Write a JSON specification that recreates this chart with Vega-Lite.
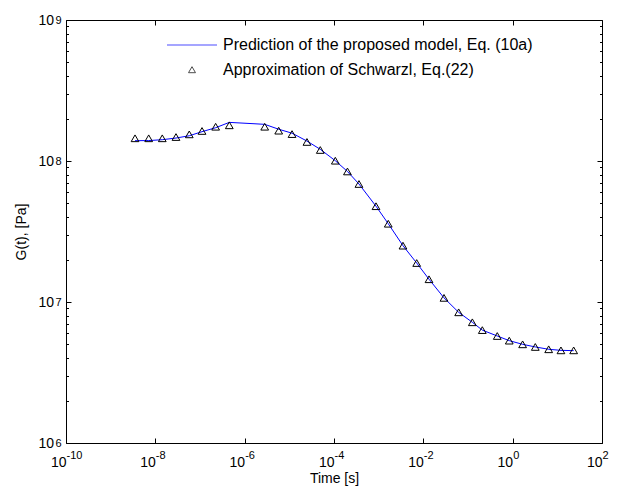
{
  "$schema": "https://vega.github.io/schema/vega-lite/v6.json",
  "width": 536,
  "height": 423,
  "autosize": "none",
  "padding": {"left": 66, "top": 20, "right": 17, "bottom": 50},
  "background": "white",
  "data": {
    "values": [
      {"series": "Prediction of the proposed model, Eq. (10a)", "t": 3.51e-9, "G": 1.393e8},
      {"series": "Prediction of the proposed model, Eq. (10a)", "t": 7.10e-9, "G": 1.396e8},
      {"series": "Prediction of the proposed model, Eq. (10a)", "t": 1.43e-8, "G": 1.416e8},
      {"series": "Prediction of the proposed model, Eq. (10a)", "t": 2.90e-8, "G": 1.455e8},
      {"series": "Prediction of the proposed model, Eq. (10a)", "t": 5.75e-8, "G": 1.510e8},
      {"series": "Prediction of the proposed model, Eq. (10a)", "t": 1.11e-7, "G": 1.614e8},
      {"series": "Prediction of the proposed model, Eq. (10a)", "t": 2.24e-7, "G": 1.722e8},
      {"series": "Prediction of the proposed model, Eq. (10a)", "t": 4.53e-7, "G": 1.879e8},
      {"series": "Prediction of the proposed model, Eq. (10a)", "t": 2.81e-6, "G": 1.820e8},
      {"series": "Prediction of the proposed model, Eq. (10a)", "t": 5.78e-6, "G": 1.68e8},
      {"series": "Prediction of the proposed model, Eq. (10a)", "t": 1.15e-5, "G": 1.575e8},
      {"series": "Prediction of the proposed model, Eq. (10a)", "t": 2.48e-5, "G": 1.385e8},
      {"series": "Prediction of the proposed model, Eq. (10a)", "t": 4.93e-5, "G": 1.21e8},
      {"series": "Prediction of the proposed model, Eq. (10a)", "t": 1.07e-4, "G": 1.005e8},
      {"series": "Prediction of the proposed model, Eq. (10a)", "t": 2.00e-4, "G": 8.43e7},
      {"series": "Prediction of the proposed model, Eq. (10a)", "t": 3.62e-4, "G": 6.87e7},
      {"series": "Prediction of the proposed model, Eq. (10a)", "t": 8.71e-4, "G": 4.78e7},
      {"series": "Prediction of the proposed model, Eq. (10a)", "t": 1.64e-3, "G": 3.59e7},
      {"series": "Prediction of the proposed model, Eq. (10a)", "t": 3.50e-3, "G": 2.51e7},
      {"series": "Prediction of the proposed model, Eq. (10a)", "t": 7.10e-3, "G": 1.89e7},
      {"series": "Prediction of the proposed model, Eq. (10a)", "t": 1.34e-2, "G": 1.45e7},
      {"series": "Prediction of the proposed model, Eq. (10a)", "t": 2.90e-2, "G": 1.07e7},
      {"series": "Prediction of the proposed model, Eq. (10a)", "t": 6.18e-2, "G": 8.45e6},
      {"series": "Prediction of the proposed model, Eq. (10a)", "t": 0.125, "G": 7.18e6},
      {"series": "Prediction of the proposed model, Eq. (10a)", "t": 0.209, "G": 6.32e6},
      {"series": "Prediction of the proposed model, Eq. (10a)", "t": 0.452, "G": 5.74e6},
      {"series": "Prediction of the proposed model, Eq. (10a)", "t": 0.839, "G": 5.32e6},
      {"series": "Prediction of the proposed model, Eq. (10a)", "t": 1.67, "G": 5.01e6},
      {"series": "Prediction of the proposed model, Eq. (10a)", "t": 3.21, "G": 4.80e6},
      {"series": "Prediction of the proposed model, Eq. (10a)", "t": 6.40, "G": 4.62e6},
      {"series": "Prediction of the proposed model, Eq. (10a)", "t": 12.05, "G": 4.54e6},
      {"series": "Prediction of the proposed model, Eq. (10a)", "t": 23.2, "G": 4.52e6},
      {"series": "Approximation of Schwarzl, Eq.(22)", "t": 3.51e-9, "G": 1.449e8},
      {"series": "Approximation of Schwarzl, Eq.(22)", "t": 7.10e-9, "G": 1.449e8},
      {"series": "Approximation of Schwarzl, Eq.(22)", "t": 1.43e-8, "G": 1.449e8},
      {"series": "Approximation of Schwarzl, Eq.(22)", "t": 2.90e-8, "G": 1.479e8},
      {"series": "Approximation of Schwarzl, Eq.(22)", "t": 5.75e-8, "G": 1.545e8},
      {"series": "Approximation of Schwarzl, Eq.(22)", "t": 1.11e-7, "G": 1.633e8},
      {"series": "Approximation of Schwarzl, Eq.(22)", "t": 2.24e-7, "G": 1.750e8},
      {"series": "Approximation of Schwarzl, Eq.(22)", "t": 4.53e-7, "G": 1.791e8},
      {"series": "Approximation of Schwarzl, Eq.(22)", "t": 2.81e-6, "G": 1.750e8},
      {"series": "Approximation of Schwarzl, Eq.(22)", "t": 5.78e-6, "G": 1.641e8},
      {"series": "Approximation of Schwarzl, Eq.(22)", "t": 1.15e-5, "G": 1.552e8},
      {"series": "Approximation of Schwarzl, Eq.(22)", "t": 2.48e-5, "G": 1.365e8},
      {"series": "Approximation of Schwarzl, Eq.(22)", "t": 4.93e-5, "G": 1.197e8},
      {"series": "Approximation of Schwarzl, Eq.(22)", "t": 1.07e-4, "G": 1.005e8},
      {"series": "Approximation of Schwarzl, Eq.(22)", "t": 2.00e-4, "G": 8.43e7},
      {"series": "Approximation of Schwarzl, Eq.(22)", "t": 3.62e-4, "G": 6.87e7},
      {"series": "Approximation of Schwarzl, Eq.(22)", "t": 8.71e-4, "G": 4.78e7},
      {"series": "Approximation of Schwarzl, Eq.(22)", "t": 1.64e-3, "G": 3.59e7},
      {"series": "Approximation of Schwarzl, Eq.(22)", "t": 3.50e-3, "G": 2.51e7},
      {"series": "Approximation of Schwarzl, Eq.(22)", "t": 7.10e-3, "G": 1.89e7},
      {"series": "Approximation of Schwarzl, Eq.(22)", "t": 1.34e-2, "G": 1.45e7},
      {"series": "Approximation of Schwarzl, Eq.(22)", "t": 2.90e-2, "G": 1.07e7},
      {"series": "Approximation of Schwarzl, Eq.(22)", "t": 6.18e-2, "G": 8.45e6},
      {"series": "Approximation of Schwarzl, Eq.(22)", "t": 0.125, "G": 7.18e6},
      {"series": "Approximation of Schwarzl, Eq.(22)", "t": 0.209, "G": 6.32e6},
      {"series": "Approximation of Schwarzl, Eq.(22)", "t": 0.452, "G": 5.74e6},
      {"series": "Approximation of Schwarzl, Eq.(22)", "t": 0.839, "G": 5.32e6},
      {"series": "Approximation of Schwarzl, Eq.(22)", "t": 1.67, "G": 5.01e6},
      {"series": "Approximation of Schwarzl, Eq.(22)", "t": 3.21, "G": 4.80e6},
      {"series": "Approximation of Schwarzl, Eq.(22)", "t": 6.40, "G": 4.62e6},
      {"series": "Approximation of Schwarzl, Eq.(22)", "t": 12.05, "G": 4.54e6},
      {"series": "Approximation of Schwarzl, Eq.(22)", "t": 23.2, "G": 4.54e6}
    ]
  },
  "layer": [
    {
      "transform": [{"filter": "datum.series === 'Prediction of the proposed model, Eq. (10a)'"}],
      "mark": {"type": "line", "strokeWidth": 1, "color": "#0000ff"},
      "encoding": {
        "x": {
          "field": "t", "type": "quantitative",
          "scale": {"type": "log", "domain": [1e-10, 100], "nice": false},
          "axis": {
            "orient": "bottom", "title": "Time [s]",
            "values": [1e-10, 1e-8, 1e-6, 1e-4, 1e-2, 1, 100],
            "labelExpr": "'10'",
            "ticks": false, "tickSize": 0,
            "labelAlign": "right", "labelDx": 3, "labelBaseline": "top",
            "labelPadding": 12, "titlePadding": 2
          }
        },
        "y": {
          "field": "G", "type": "quantitative",
          "scale": {"type": "log", "domain": [1e6, 1e9], "nice": false},
          "axis": {
            "orient": "left", "title": "G(t), [Pa]",
            "values": [1e6, 1e7, 1e8, 1e9],
            "labelExpr": "'10'",
            "ticks": false, "tickSize": 0,
            "labelDy": 1, "labelPadding": 12.5, "titlePadding": 9
          }
        }
      }
    },
    {
      "transform": [{"filter": "datum.series === 'Approximation of Schwarzl, Eq.(22)'"}],
      "mark": {"type": "point", "shape": "triangle-up", "filled": false, "size": 60, "strokeWidth": 1, "opacity": 1, "color": "#000000"},
      "encoding": {
        "x": {
          "field": "t", "type": "quantitative",
          "axis": {
            "orient": "top", "title": null, "labels": false,
            "values": [1e-10, 1e-8, 1e-6, 1e-4, 1e-2, 1, 100],
            "tickSize": -5
          }
        },
        "y": {
          "field": "G", "type": "quantitative",
          "axis": {
            "orient": "right", "title": null, "labels": false,
            "values": [1e6, 2e6, 3e6, 4e6, 5e6, 6e6, 7e6, 8e6, 9e6, 1e7, 2e7, 3e7, 4e7, 5e7, 6e7, 7e7, 8e7, 9e7, 1e8, 2e8, 3e8, 4e8, 5e8, 6e8, 7e8, 8e8, 9e8, 1e9],
            "tickSize": {"condition": {"test": "abs(log(datum.value)/LN10 - round(log(datum.value)/LN10)) < 1e-6", "value": -5}, "value": -2.5}
          }
        }
      }
    },
    {
      "transform": [{"filter": "datum.series === 'Approximation of Schwarzl, Eq.(22)'"}],
      "mark": {"type": "point", "opacity": 0},
      "encoding": {
        "x": {
          "field": "t", "type": "quantitative",
          "axis": {
            "orient": "bottom", "title": null,
            "values": [1e-10, 1e-8, 1e-6, 1e-4, 1e-2, 1, 100],
            "labelExpr": "'' + round(log(datum.value)/LN10)",
            "ticks": false, "tickSize": 0,
            "labelAlign": "left", "labelDx": 3, "labelBaseline": "top",
            "labelFontSize": 11, "labelPadding": 6
          }
        },
        "y": {
          "field": "G", "type": "quantitative",
          "axis": {
            "orient": "left", "title": null,
            "values": [1e6, 1e7, 1e8, 1e9],
            "labelExpr": "'' + round(log(datum.value)/LN10)",
            "ticks": false, "tickSize": 0,
            "labelFontSize": 11, "labelDy": -6, "labelPadding": 5
          }
        }
      }
    },
    {
      "transform": [{"filter": "datum.series === 'Approximation of Schwarzl, Eq.(22)'"}],
      "mark": {"type": "point", "opacity": 0},
      "encoding": {
        "x": {
          "field": "t", "type": "quantitative",
          "axis": {
            "orient": "bottom", "title": null, "labels": false,
            "values": [1e-10, 1e-8, 1e-6, 1e-4, 1e-2, 1, 100],
            "tickSize": -5
          }
        },
        "y": {
          "field": "G", "type": "quantitative",
          "axis": {
            "orient": "left", "title": null, "labels": false,
            "values": [1e6, 2e6, 3e6, 4e6, 5e6, 6e6, 7e6, 8e6, 9e6, 1e7, 2e7, 3e7, 4e7, 5e7, 6e7, 7e7, 8e7, 9e7, 1e8, 2e8, 3e8, 4e8, 5e8, 6e8, 7e8, 8e8, 9e8, 1e9],
            "tickSize": {"condition": {"test": "abs(log(datum.value)/LN10 - round(log(datum.value)/LN10)) < 1e-6", "value": -5}, "value": -2.5}
          }
        }
      }
    },
    {
      "transform": [{"filter": "false"}],
      "mark": {"type": "point", "filled": false, "strokeWidth": 1},
      "encoding": {
        "x": {"field": "t", "type": "quantitative", "axis": null},
        "y": {"field": "G", "type": "quantitative", "axis": null},
        "color": {
          "field": "series", "type": "nominal",
          "scale": {"domain": ["Prediction of the proposed model, Eq. (10a)", "Approximation of Schwarzl, Eq.(22)"], "range": ["#0000ff", "#000000"]},
          "legend": {"title": null}
        },
        "shape": {
          "field": "series", "type": "nominal",
          "scale": {"domain": ["Prediction of the proposed model, Eq. (10a)", "Approximation of Schwarzl, Eq.(22)"], "range": ["M-10,0H0", "M-5,-0.6L-5.7,0.6L-4.3,0.6Z"]},
          "legend": {"title": null}
        }
      }
    }
  ],
  "resolve": {"axis": {"x": "independent", "y": "independent"}},
  "config": {
    "view": {"stroke": "#000000", "strokeWidth": 1},
    "font": "Liberation Sans",
    "axis": {
      "labelFont": "Liberation Sans", "labelFontSize": 14, "labelColor": "#000000",
      "titleFont": "Liberation Sans", "titleFontSize": 14, "titleFontWeight": "normal", "titleColor": "#000000",
      "tickColor": "#000000", "tickWidth": 1, "domain": false, "grid": false, "labelOverlap": false, "labelFlush": false
    },
    "legend": {
      "orient": "none", "legendX": 143, "legendY": 17, "padding": 0,
      "labelFont": "Liberation Sans", "labelFontSize": 16, "labelColor": "#000000",
      "symbolSize": 100, "symbolStrokeWidth": 1, "symbolOffset": 0, "labelOffset": -2, "rowPadding": 8.7, "labelLimit": 500,
      "symbolFillColor": "transparent"
    }
  }
}
